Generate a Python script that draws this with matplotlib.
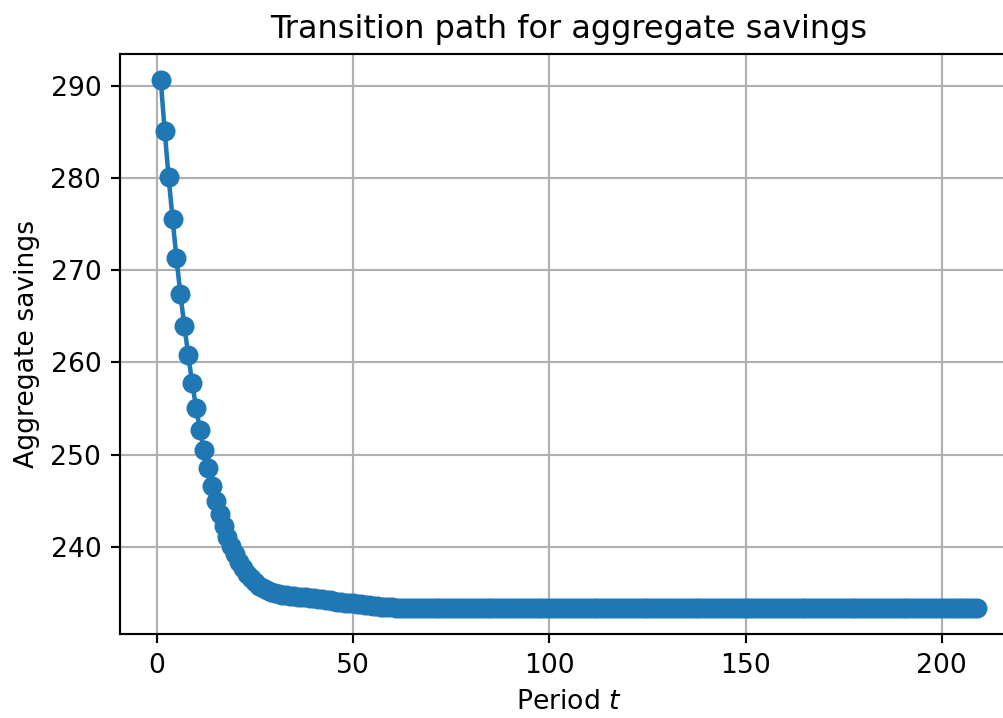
import matplotlib.pyplot as plt
import numpy as np

# aggregate savings along the transition, one value per period
savings_head = [290.6, 285.1, 280.1, 275.6, 271.3, 267.4, 264.0, 260.8, 257.8, 255.1,
                252.7, 250.5, 248.5, 246.6, 245.0, 243.6, 242.3, 241.1, 240.1, 239.2,
                238.4, 237.7, 237.1, 236.6, 236.2, 235.8, 235.5, 235.3, 235.1, 235.0,
                234.9, 234.8, 234.75, 234.7, 234.65, 234.6, 234.55, 234.5, 234.45, 234.4,
                234.35, 234.3, 234.25, 234.2, 234.1, 234.05, 234.0, 233.95, 233.9, 233.85,
                233.8, 233.75, 233.7, 233.65, 233.6, 233.55, 233.5, 233.5, 233.45, 233.45]
savings_tail = [233.4] * 149
savings = savings_head + savings_tail
periods = np.arange(1, len(savings) + 1)

dpi = 192
fig = plt.figure(figsize=(1003 / dpi, 718 / dpi), dpi=dpi)
ax = fig.add_axes([0.1196, 0.117, 0.8953, 0.8078])

ax.plot(periods, savings, marker='o', markersize=6.5, linewidth=1.7, color='#1f77b4')
ax.grid(True)
ax.set_title("Transition path for aggregate savings")
ax.set_xlabel("Period $t$")
ax.set_ylabel("Aggregate savings")

fig.savefig("out.png", dpi=dpi)
